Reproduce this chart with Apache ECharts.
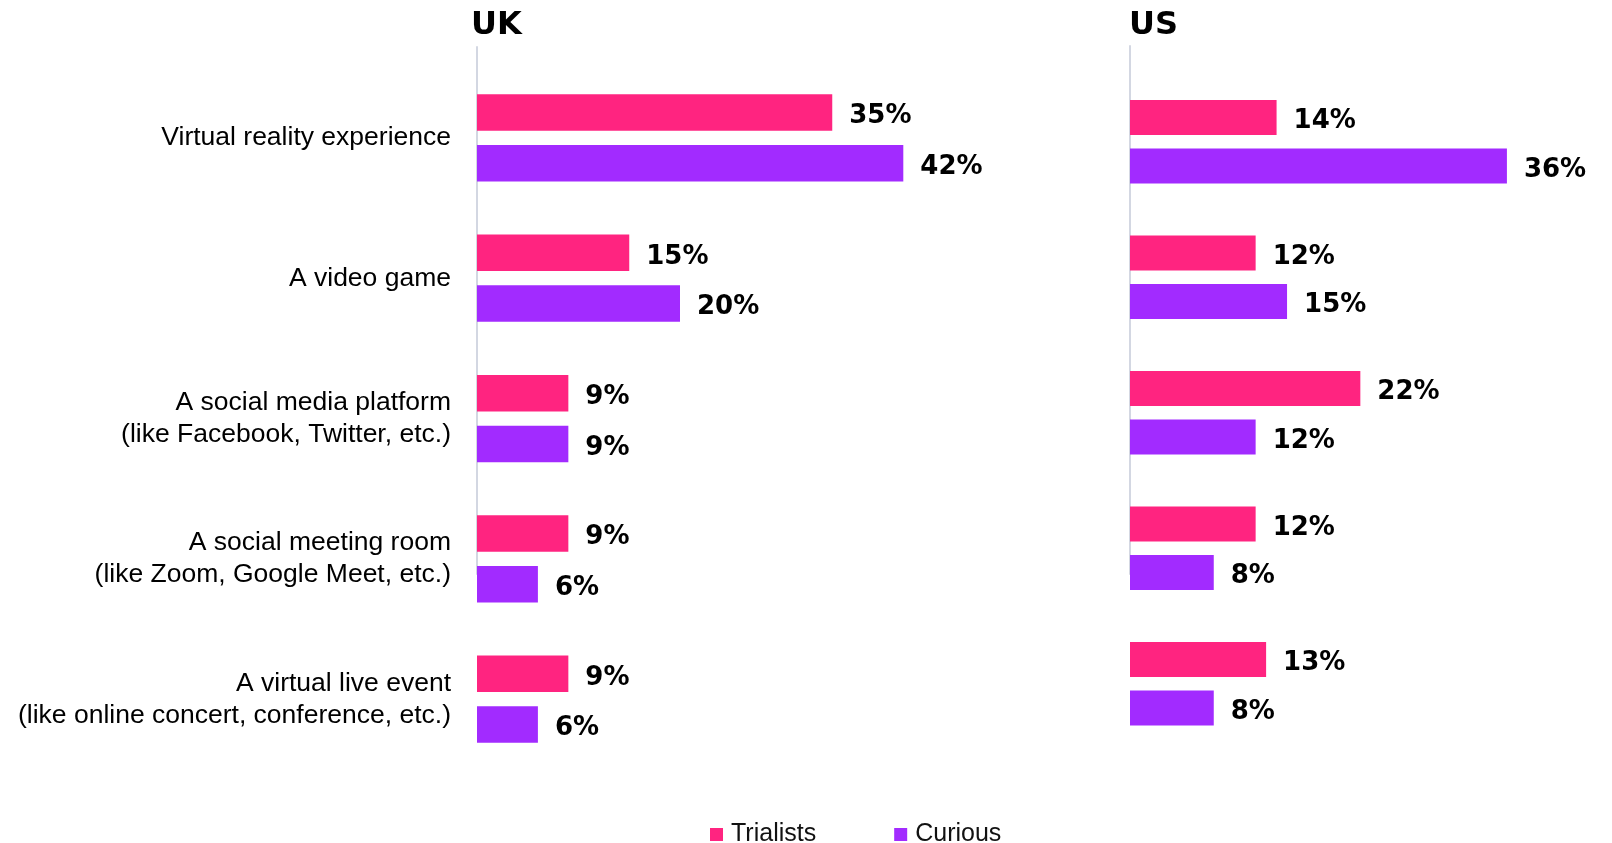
<!DOCTYPE html>
<html>
<head>
<meta charset="utf-8">
<title>Metaverse experiences - UK vs US</title>
<script src="https://cdn.jsdelivr.net/npm/echarts@6/dist/echarts.min.js"></script>
<style>
  html, body { margin: 0; padding: 0; background: #fff; }
  #chart { width: 1612px; height: 843px; }
</style>
</head>
<body>
<div id="chart"></div>
<script>
// categories (top to bottom)
var categories = [
  "Virtual reality experience",
  "A video game",
  "A social media platform\n(like Facebook, Twitter, etc.)",
  "A social meeting room\n(like Zoom, Google Meet, etc.)",
  "A virtual live event\n(like online concert, conference, etc.)"
];
var seriesNames = ["Trialists", "Curious"];
// UK values (%)
var ukTrialists = [35, 15, 9, 9, 9];
var ukCurious = [42, 20, 9, 6, 6];
// US values (%)
var usTrialists = [14, 12, 22, 12, 13];
var usCurious = [36, 15, 12, 8, 8];

var PINK = "#FF2480";
var PURPLE = "#A22BFF";
var AXIS_GREY = "#D3D7E2";

var chart = echarts.init(document.getElementById("chart"), null, { renderer: "canvas" });

//数值标签
function barLabel() {
  return {
    show: true,
    position: "right",
    distance: 17,
    offset: [0, 4],
    formatter: "{c}%",
    color: "#000",
    fontFamily: "DejaVu Sans",
    fontWeight: "bold",
    fontSize: 26
  };
}

function hiddenValueAxis(gridIndex, max) {
  return {
    type: "value", gridIndex: gridIndex, min: 0, max: max,
    show: false, splitLine: { show: false }
  };
}

// thin vertical line only (the short grey axis line in the original)
function lineAxis(gridIndex) {
  return {
    type: "value", gridIndex: gridIndex, min: 0, max: 1,
    axisLine: { show: true, lineStyle: { color: AXIS_GREY, width: 2 } },
    axisTick: { show: false }, axisLabel: { show: false }, splitLine: { show: false }
  };
}

var titleStyle = { fontFamily: "DejaVu Sans", fontWeight: "bold", fontSize: 32, color: "#000" };

chart.setOption({
  animation: false,
  backgroundColor: "#fff",
  title: [
    { text: "UK", left: 471, top: 10, padding: 0, textStyle: titleStyle },
    { text: "US", left: 1129, top: 10, padding: 0, textStyle: titleStyle }
  ],
  legend: {
    data: seriesNames,
    left: 710,
    top: 822,
    padding: 0,
    itemWidth: 13,
    itemHeight: 13,
    itemGap: 78,
    icon: "rect",
    textStyle: { fontFamily: "Liberation Sans", fontSize: 25, color: "#111", padding: [0, 0, 0, 3] }
  },
  grid: [
    { left: 477, top: 67.7, width: 507.5, height: 701.7 },
    { left: 1130, top: 74, width: 418.8, height: 677.5 },
    { left: 477, top: 47, width: 10, height: 527 },
    { left: 1130, top: 46, width: 10, height: 528 }
  ],
  xAxis: [
    hiddenValueAxis(0, 50),
    hiddenValueAxis(1, 40),
    hiddenValueAxis(2, 1),
    hiddenValueAxis(3, 1)
  ],
  yAxis: [
    {
      type: "category", gridIndex: 0, data: categories, inverse: true,
      axisLine: { show: false }, axisTick: { show: false },
      axisLabel: {
        margin: 26, color: "#000", fontFamily: "Liberation Sans",
        fontSize: 26.5, lineHeight: 32, align: "right"
      }
    },
    {
      type: "category", gridIndex: 1, data: categories, inverse: true,
      axisLine: { show: false }, axisTick: { show: false }, axisLabel: { show: false }
    },
    lineAxis(2),
    lineAxis(3)
  ],
  series: [
    { name: "Trialists", type: "bar", xAxisIndex: 0, yAxisIndex: 0, data: ukTrialists,
      barWidth: 36.5, barGap: "39%", itemStyle: { color: PINK }, label: barLabel() },
    { name: "Curious", type: "bar", xAxisIndex: 0, yAxisIndex: 0, data: ukCurious,
      barWidth: 36.5, barGap: "39%", itemStyle: { color: PURPLE }, label: barLabel() },
    { name: "Trialists", type: "bar", xAxisIndex: 1, yAxisIndex: 1, data: usTrialists,
      barWidth: 35, barGap: "38%", itemStyle: { color: PINK }, label: barLabel() },
    { name: "Curious", type: "bar", xAxisIndex: 1, yAxisIndex: 1, data: usCurious,
      barWidth: 35, barGap: "38%", itemStyle: { color: PURPLE }, label: barLabel() }
  ]
});
</script>
</body>
</html>
